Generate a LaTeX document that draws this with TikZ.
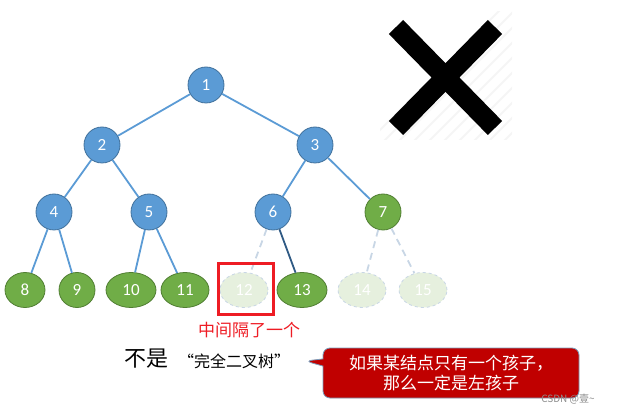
\documentclass[tikz,border=0pt]{standalone}
\usepackage{fontspec}
\setmainfont{Carlito}
\newfontfamily\cjk{Noto Sans CJK SC}
\usetikzlibrary{shapes.geometric,shapes.callouts}
\definecolor{nblue}{HTML}{5B9BD5}
\definecolor{nblueD}{HTML}{41719C}
\definecolor{ngreen}{HTML}{70AD47}
\definecolor{ngreenD}{HTML}{507E32}
\definecolor{nfade}{HTML}{E6F0DE}
\definecolor{dashc}{HTML}{C8D6E5}
\definecolor{darkedge}{HTML}{2F5A84}
\definecolor{callred}{HTML}{C00000}
\definecolor{redtxt}{HTML}{EE1C24}
\tikzset{
  bnode/.style={circle, minimum size=36pt, inner sep=0pt, fill=nblue, draw=nblueD, line width=0.8pt, text=white, font=\fontsize{17}{17}\selectfont},
  gnode/.style={ellipse, minimum height=35pt, inner sep=0pt, fill=ngreen, draw=ngreenD, line width=0.8pt, text=white, font=\fontsize{17}{17}\selectfont},
  fnode/.style={ellipse, minimum height=35pt, minimum width=48pt, inner sep=0pt, fill=nfade, draw=dashc, dashed, line width=0.8pt, text=white, font=\fontsize{17}{17}\selectfont},
  edge/.style={draw=nblue, line width=1.8pt},
  dedge/.style={draw=dashc, line width=1.8pt, dash pattern=on 7pt off 5pt},
}
\begin{document}
\begin{tikzpicture}[x=1pt,y=-1pt]
\useasboundingbox (0,0) rectangle (619,414);
% faint hatching behind the cross
\begin{scope}
\clip (380,12) rectangle (512,140);
\foreach \k in {0,...,18}{
  \draw[black!4, line width=2pt] (360+\k*15,150) -- (360+\k*15+150,0);
}
\end{scope}
% cross
\draw[black, line width=20pt] (396,27) -- (495,128);
\draw[black, line width=20pt] (495,27) -- (396,128);
% nodes
\node[bnode] (n1) at (206,85) {1};
\node[bnode] (n2) at (102,145) {2};
\node[bnode] (n3) at (315,145) {3};
\node[bnode] (n4) at (54,212) {4};
\node[bnode] (n5) at (149,212) {5};
\node[bnode] (n6) at (273,212) {6};
\node[gnode, minimum size=36pt] (n7) at (383,212) {7};
\node[gnode, minimum width=40pt] (n8) at (25,290) {8};
\node[gnode, minimum width=36pt] (n9) at (77,290) {9};
\node[gnode, minimum width=50pt] (n10) at (131,290) {10};
\node[gnode, minimum width=48pt] (n11) at (185,290) {11};
\node[fnode] (n12) at (244,290) {12};
\node[gnode, minimum width=50pt] (n13) at (302,290) {13};
\node[fnode] (n14) at (362,290) {14};
\node[fnode] (n15) at (423,290) {15};
% edges
\draw[edge] (n1) -- (n2);
\draw[edge] (n1) -- (n3);
\draw[edge] (n2) -- (n4);
\draw[edge] (n2) -- (n5);
\draw[edge] (n3) -- (n6);
\draw[edge] (n3) -- (n7);
\draw[edge] (n4) -- (n8);
\draw[edge] (n4) -- (n9);
\draw[edge] (n5) -- (n10);
\draw[edge] (n5) -- (n11);
\draw[draw=darkedge, line width=1.8pt] (n6) -- (n13);
\draw[dedge] (n6) -- (n12);
\draw[dedge] (n7) -- (n14);
\draw[dedge] (n7) -- (n15);
% red box
\node[draw=redtxt, line width=3pt, minimum width=55pt, minimum height=51pt, inner sep=0pt] (box) at (245.5,289) {};
\node[text=redtxt, font=\cjk\fontsize{17}{17}\selectfont, inner sep=0pt] (gap) at (249,330) {中间隔了一个};
% bottom text
\node[anchor=west, inner sep=0pt, font=\cjk\fontsize{22}{22}\selectfont] (notc) at (124,359) {不是};
\node[anchor=west, inner sep=0pt, font=\cjk\fontsize{16}{16}\selectfont] (ctree) at (178,361) {“完全二叉树”};
% callout
\coordinate (ptr) at (305,361);
\node[rectangle callout, callout absolute pointer={(ptr)}, fill=callred, draw=nblueD!70, line width=0.8pt, rounded corners=7pt, minimum width=256pt, minimum height=50pt, text=white, align=center, font=\cjk\fontsize{17}{20}\selectfont, inner sep=0pt] (call) at (451,373) {如果某结点只有一个孩子，\\那么一定是左孩子};
% watermark text
\node[text=black!45, font=\cjk\fontsize{10}{10}\selectfont, inner sep=0pt] (csdn) at (568,399) {CSDN @壹\textasciitilde};
\end{tikzpicture}
\end{document}
